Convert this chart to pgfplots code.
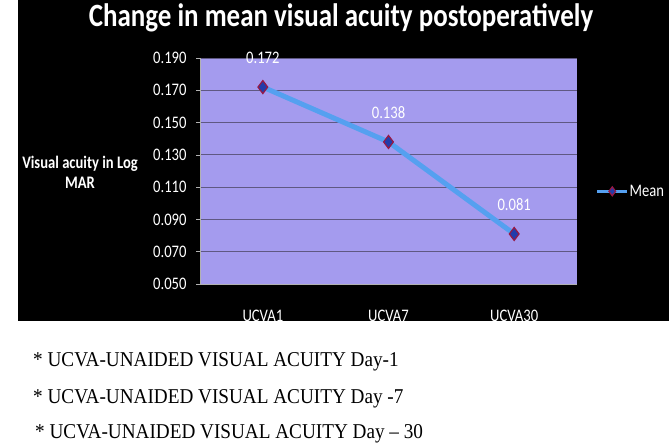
\documentclass[border=0pt]{standalone}
\usepackage{pgfplots}
\pgfplotsset{compat=1.18}
\usepackage{fontspec}
\setmainfont{Carlito}[FakeStretch=0.83]
\newfontfamily\timesfont{Liberation Serif}[FakeStretch=0.91]
\definecolor{plotbg}{RGB}{164,155,238}
\definecolor{gridc}{RGB}{95,88,130}
\definecolor{linec}{RGB}{85,160,240}
\definecolor{markfill}{RGB}{35,60,170}
\definecolor{markedge}{RGB}{150,25,70}
\newcommand{\cf}{\fontsize{17.6}{20}\selectfont}
\newcommand{\ff}{\timesfont\fontsize{21.1}{24}\selectfont}
\begin{document}
\begin{tikzpicture}[x=1pt,y=1pt]
\path[fill=white] (0,0) rectangle (669,442);
\fill[black] (18,121) rectangle (669,442);
\node[text=white, font=\fontsize{32.5}{36}\selectfont\bfseries] at (341,424) {Change in mean visual acuity postoperatively};
\node[text=white, font=\cf\bfseries, align=center] at (80,270) {Visual acuity in Log\\MAR};
\begin{axis}[
  at={(200pt,158pt)}, anchor=south west,
  scale only axis, width=377pt, height=226pt,
  xmin=0.5, xmax=3.5, ymin=0.05, ymax=0.19,
  ytick={0.05,0.07,0.09,0.11,0.13,0.15,0.17,0.19},
  yticklabels={0.050,0.070,0.090,0.110,0.130,0.150,0.170,0.190},
  xtick={1,2,3},
  xticklabels={UCVA1,UCVA7,UCVA30},
  minor xtick={0.5,1.5,2.5,3.5},
  xtick style={draw=none},
  minor tick style={draw=gray!60, line width=0.6pt},
  ytick style={draw=gray!60, line width=0.6pt},
  tick align=outside,
  major tick length=4pt, minor tick length=5pt,
  axis background/.style={fill=plotbg},
  ymajorgrids, grid style={draw=gridc, line width=0.8pt},
  axis lines*=left,
  axis line style={draw=gray!60, line width=0.6pt, -},
  ticklabel style={text=white, font=\cf},
  xticklabel style={anchor=center, yshift=-28pt},
  yticklabel style={xshift=-6pt},
  legend style={at={(1.05,0.41)}, anchor=west, draw=none, fill=none, text=white, font=\cf, inner sep=0pt,
    nodes={inner xsep=1pt}},
  legend image code/.code={\draw[mark repeat=2, mark phase=2, #1, line width=2.5pt, mark size=4.5pt] plot coordinates {(0pt,0pt) (15pt,0pt) (30pt,0pt)};},
  nodes near coords,
  point meta=explicit symbolic,
  every node near coord/.append style={anchor=center, yshift=29pt, text=white, font=\cf},
  clip=false,
]
\addplot[color=linec, line width=5pt, mark=diamond*, mark size=6.5pt,
  mark options={fill=markfill, draw=markedge, line width=1.2pt}]
  coordinates {(1,0.172) [0.172] (2,0.138) [0.138] (3,0.081) [0.081]};
\addlegendentry{Mean}
\end{axis}
\fill[white] (0,0) rectangle (669,121);
\node[anchor=base west, font=\ff, inner sep=0pt] at (33,75) {* UCVA-UNAIDED VISUAL ACUITY Day-1};
\node[anchor=base west, font=\ff, inner sep=0pt] at (33,38) {* UCVA-UNAIDED VISUAL ACUITY Day -7};
\node[anchor=base west, font=\ff, inner sep=0pt] at (35,4) {* UCVA-UNAIDED VISUAL ACUITY Day – 30};
\end{tikzpicture}
\end{document}
